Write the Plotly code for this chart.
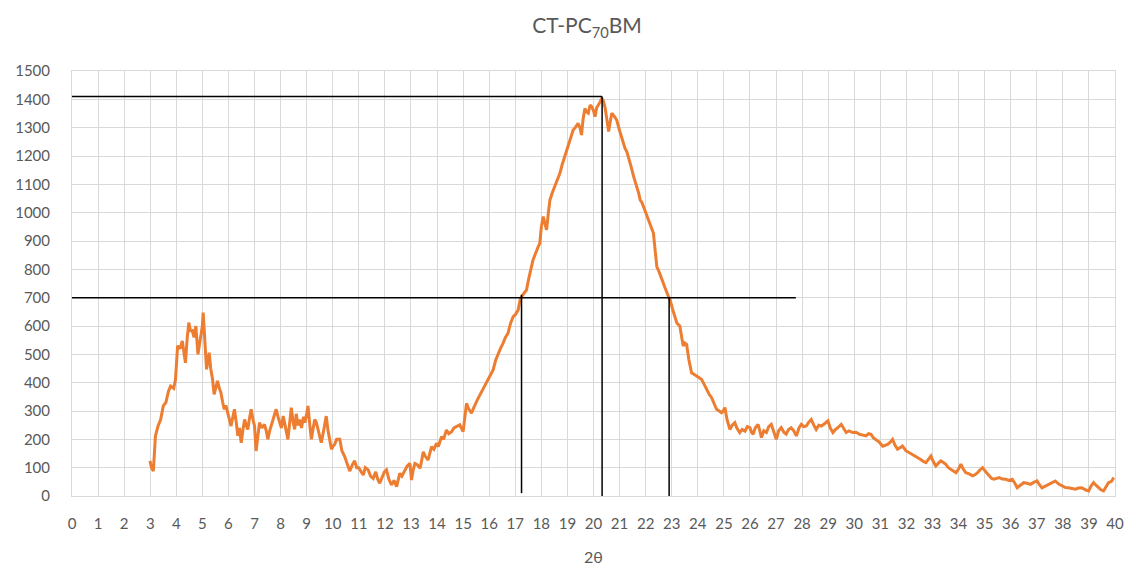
import plotly.graph_objects as go

# ---- data (2theta, intensity) ----
two_theta = [
    2.99, 3.05, 3.12, 3.2, 3.3, 3.4, 3.5, 3.6, 3.7, 3.78, 3.9, 3.97, 4.05, 4.15, 4.23, 4.3, 4.35, 4.42, 4.48, 4.55,
    4.6, 4.68, 4.75, 4.83, 4.9, 4.94, 5.0, 5.03, 5.1, 5.16, 5.22, 5.26, 5.32, 5.39, 5.45, 5.52, 5.58, 5.65, 5.71, 5.78,
    5.84, 5.9, 5.97, 6.04, 6.1, 6.17, 6.23, 6.3, 6.36, 6.42, 6.49, 6.55, 6.62, 6.68, 6.74, 6.8, 6.87, 6.94, 7.0, 7.06,
    7.12, 7.19, 7.28, 7.38, 7.45, 7.51, 7.58, 7.64, 7.72, 7.83, 7.9, 7.96, 8.03, 8.1, 8.2, 8.28, 8.35, 8.41, 8.48, 8.54,
    8.6, 8.66, 8.73, 8.8, 8.88, 8.93, 9.0, 9.05, 9.12, 9.18, 9.25, 9.31, 9.37, 9.45, 9.5, 9.56, 9.65, 9.75, 9.82, 9.9,
    9.95, 10.01, 10.07, 10.15, 10.27, 10.35, 10.45, 10.55, 10.65, 10.75, 10.84, 10.92, 11.0,
    11.1, 11.17, 11.25, 11.36, 11.45, 11.55, 11.65, 11.72, 11.8, 11.9, 11.98, 12.06, 12.15, 12.25, 12.35, 12.45, 12.52,
    12.57, 12.65, 12.77, 12.85, 12.96, 13.02, 13.08, 13.15, 13.25, 13.35, 13.42, 13.47, 13.55, 13.66, 13.72, 13.79,
    13.88, 13.98, 14.05, 14.17, 14.25, 14.36, 14.45, 14.56, 14.65, 14.75, 14.87, 15.0, 15.07, 15.13, 15.2, 15.32, 15.4,
    15.45, 15.55, 15.64, 15.72, 15.83, 15.9, 15.96, 16.05, 16.15, 16.25, 16.34, 16.43, 16.53, 16.62, 16.72, 16.82,
    16.92, 17.0, 17.11, 17.18, 17.24, 17.33, 17.43, 17.5, 17.56, 17.62, 17.68, 17.75, 17.81, 17.88, 17.94, 18.0, 18.07,
    18.13, 18.2, 18.27, 18.33, 18.42, 18.52, 18.6, 18.71, 18.8, 18.9, 18.96, 19.03, 19.12, 19.22, 19.3, 19.41, 19.48,
    19.54, 19.6, 19.67, 19.74, 19.8, 19.87, 19.93, 20.0, 20.06, 20.12, 20.19, 20.25, 20.32, 20.38, 20.45, 20.52, 20.58,
    20.64, 20.7, 20.8, 20.89, 21.0, 21.09, 21.15, 21.21, 21.28, 21.34, 21.45, 21.54, 21.6, 21.67, 21.73, 21.79, 21.86,
    21.92, 22.0, 22.11, 22.2, 22.3, 22.36, 22.43, 22.52, 22.62, 22.68, 22.75, 22.85, 22.94, 23.03, 23.13, 23.2,
    23.31, 23.38, 23.44, 23.5, 23.57, 23.66, 23.76, 23.85, 23.95, 24.05, 24.14, 24.24, 24.34, 24.43, 24.53, 24.62,
    24.72, 24.82, 24.91, 24.97, 25.04, 25.12, 25.23, 25.32, 25.42, 25.5, 25.61, 25.7, 25.81, 25.9, 26.0, 26.06, 26.12,
    26.2, 26.31, 26.38, 26.44, 26.53, 26.63, 26.72, 26.82, 26.92, 27.01, 27.1, 27.2, 27.3, 27.39, 27.48, 27.58, 27.68,
    27.78, 27.88, 27.97, 28.06, 28.16, 28.25, 28.35, 28.45, 28.54, 28.64, 28.74, 28.86, 28.99, 29.08, 29.18, 29.28,
    29.37, 29.5, 29.6, 29.69, 29.8, 29.94, 30.07, 30.2, 30.33, 30.45, 30.55, 30.64, 30.74, 30.83, 30.96, 31.09, 31.18,
    31.28, 31.38, 31.47, 31.56, 31.66, 31.75, 31.85, 31.98, 32.11, 32.24, 32.36, 32.45, 32.55, 32.65, 32.75, 32.85,
    32.94, 33.04, 33.13, 33.22, 33.32, 33.42, 33.51, 33.61, 33.71, 33.8, 33.9, 34.0, 34.09, 34.18, 34.28, 34.41, 34.54,
    34.63, 34.73, 34.82, 34.92, 35.05, 35.17, 35.27, 35.36, 35.46, 35.56, 35.68, 35.81, 35.93, 36.06, 36.16, 36.25,
    36.37, 36.5, 36.63, 36.76, 36.88, 37.01, 37.1, 37.2, 37.33, 37.46, 37.58, 37.71, 37.84, 37.97, 38.1, 38.22, 38.35,
    38.48, 38.6, 38.73, 38.86, 38.99, 39.08, 39.18, 39.27, 39.37, 39.46, 39.56, 39.66, 39.75, 39.82, 39.88, 39.95,
]
intensity = [
    124, 100, 88, 212, 247, 270, 318, 330, 370, 388, 380, 412, 530, 520, 547, 500, 470, 560, 612, 580,
    588, 560, 600, 500, 540, 565, 600, 647, 530, 447, 480, 506, 450, 412, 359, 390, 406, 380, 365, 330,
    306, 320, 294, 270, 247, 280, 306, 260, 212, 240, 188, 230, 270, 250, 235, 270, 306, 270, 247, 159,
    210, 259, 240, 253, 230, 200, 230, 247, 270, 306, 280, 259, 240, 282, 240, 200, 260, 312, 260, 235,
    290, 250, 270, 240, 280, 259, 290, 318, 250, 200, 240, 270, 259, 230, 210, 188, 230, 282, 230, 190,
    165, 175, 182, 200, 200, 160, 141, 115, 88, 110, 124, 100, 100,
    84, 74, 100, 92, 70, 62, 85, 60, 45, 70, 85, 92, 60, 39, 55, 33, 60,
    80, 70, 92, 105, 115, 56, 90, 115, 110, 98, 130, 156, 140, 127, 150, 174,
    165, 186, 175, 209, 200, 233, 220, 227, 240, 245, 251, 227, 280, 327, 310, 292, 310,
    321, 340, 356, 370, 386, 400, 409, 430, 445, 480, 504, 520, 539, 560, 574, 610,
    633, 640, 656, 690, 704, 715, 727, 760, 786, 810, 833, 850, 868, 880, 892, 950, 986,
    960, 939, 1000, 1045, 1070, 1092, 1110, 1139, 1170, 1198, 1215, 1233, 1260, 1292, 1300, 1315, 1300,
    1274, 1330, 1368, 1355, 1351, 1380, 1374, 1360, 1339, 1370, 1380, 1390, 1404, 1395, 1368, 1320, 1286,
    1320, 1351, 1340, 1327, 1290, 1262, 1250, 1227, 1215, 1198, 1160, 1127, 1110, 1092, 1070, 1045, 1035,
    1021, 1000, 974, 950, 927, 870, 809, 790, 762, 750, 733, 710, 692, 660, 633, 610,
    600, 560, 529, 540, 535, 480, 435, 430, 424, 415, 412, 395, 376, 360, 347, 325,
    306, 300, 294, 300, 312, 270, 235, 250, 259, 240, 224, 235, 229, 245, 241, 225, 218,
    240, 253, 230, 206, 230, 224, 245, 253, 225, 200, 230, 241, 225, 218, 235, 241, 230,
    212, 240, 253, 245, 247, 260, 270, 250, 235, 250, 247, 255, 265, 240, 224, 235,
    241, 253, 235, 224, 230, 224, 225, 218, 215, 212, 220, 218, 205, 200, 190, 176, 180,
    182, 190, 200, 180, 165, 170, 176, 160, 153, 148, 141, 135, 129, 122, 118, 130,
    141, 120, 106, 115, 124, 118, 112, 100, 94, 88, 82, 95, 112, 95, 82, 78, 71,
    75, 82, 92, 100, 85, 71, 62, 59, 62, 65, 60, 59, 55, 59, 45, 29,
    38, 47, 45, 41, 48, 53, 40, 29, 35, 41, 48, 53, 42, 35, 30, 29, 27,
    24, 28, 29, 22, 18, 35, 47, 38, 29, 22, 18, 35, 47, 50, 53, 65,
]

# reference (guide) lines
peak_x = 20.33
peak_y = 1410
half_y = 700
half_left_x = 17.24
half_right_x = 22.9
half_line_end_x = 27.76
left_line_bottom = 10
mid_line_bottom = -5

x_ticks = list(range(0, 41))
y_ticks = list(range(0, 1501, 100))

TEXT = "#595959"
GRID = "#d9d9d9"
FONT = "Lato, Roboto, sans-serif"

fig = go.Figure()
fig.add_trace(go.Scatter(
    x=two_theta, y=intensity, mode="lines",
    line=dict(color="#ED7D31", width=3),
    showlegend=False, hoverinfo="x+y",
))

line_style = dict(color="black", width=1.5)
shapes = [
    dict(type="line", xref="x", yref="y", x0=0, x1=peak_x, y0=peak_y, y1=peak_y, line=line_style),
    dict(type="line", xref="x", yref="y", x0=0, x1=half_line_end_x, y0=half_y, y1=half_y, line=line_style),
    dict(type="line", xref="x", yref="y", x0=half_left_x, x1=half_left_x, y0=left_line_bottom, y1=half_y + 10, line=line_style),
    dict(type="line", xref="x", yref="y", x0=peak_x, x1=peak_x, y0=mid_line_bottom, y1=peak_y, line=line_style),
    dict(type="line", xref="x", yref="y", x0=half_right_x, x1=half_right_x, y0=mid_line_bottom, y1=half_y, line=line_style),
]

fig.update_layout(
    width=1131, height=572,
    margin=dict(l=72, r=16, t=71, b=76, autoexpand=False),
    paper_bgcolor="white", plot_bgcolor="white",
    font=dict(family=FONT, color=TEXT, size=14),
    title=dict(
        text="CT-PC<sub>70</sub>BM",
        x=0.519, xref="container", xanchor="center",
        y=0.955, yref="container", yanchor="middle",
        font=dict(family=FONT, size=21, color=TEXT),
    ),
    shapes=shapes,
    showlegend=False,
)
fig.update_xaxes(
    range=[0, 40], tickmode="array", tickvals=x_ticks, ticktext=[str(v) for v in x_ticks],
    showgrid=True, gridcolor=GRID, gridwidth=1,
    showline=True, linecolor=GRID, linewidth=1, mirror=True,
    zeroline=False, ticks="", ticklabelstandoff=14, automargin=False,
    tickfont=dict(family=FONT, size=15, color=TEXT),
    title=dict(text="2θ", font=dict(family=FONT, size=16, color=TEXT), standoff=20),
)
fig.update_yaxes(
    range=[0, 1500], tickmode="array", tickvals=y_ticks, ticktext=[str(v) for v in y_ticks],
    showgrid=True, gridcolor=GRID, gridwidth=1,
    showline=True, linecolor=GRID, linewidth=1, mirror=True,
    zeroline=False, ticks="", ticklabelstandoff=18, automargin=False,
    tickfont=dict(family=FONT, size=15, color=TEXT),
)

fig.write_html(
    "out.html",
    config={"displayModeBar": False},
    post_script="document.body.style.margin='0';document.body.style.overflow='hidden';",
)
